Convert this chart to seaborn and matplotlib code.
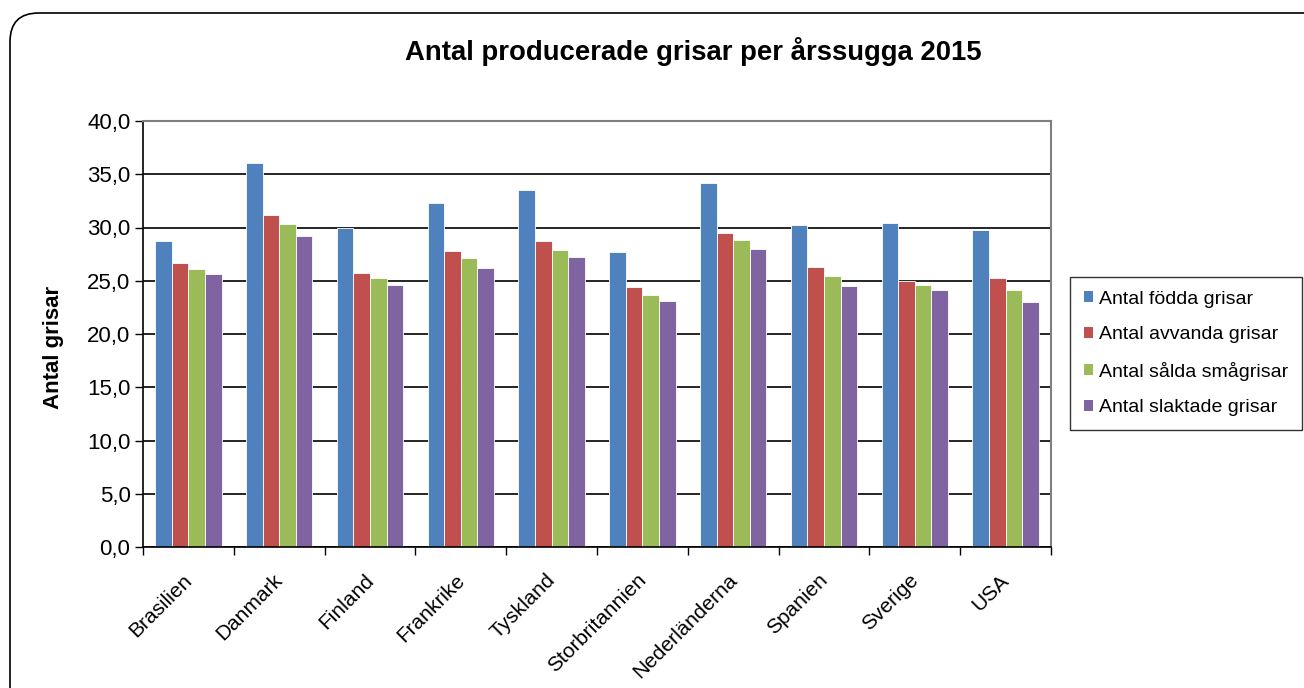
import pandas as pd
import matplotlib
matplotlib.use("Agg")
import matplotlib.pyplot as plt
import matplotlib.transforms as mtransforms
import seaborn as sns
from matplotlib.patches import FancyBboxPatch, Patch
from matplotlib.ticker import FuncFormatter, FixedLocator

# ── Data ──────────────────────────────────────────────────────────────────
countries = ["Brasilien", "Danmark", "Finland", "Frankrike", "Tyskland",
             "Storbritannien", "Nederländerna", "Spanien", "Sverige", "USA"]
series = ["Antal födda grisar", "Antal avvanda grisar",
          "Antal sålda smågrisar", "Antal slaktade grisar"]
fodda = [28.7, 36.1, 30.0, 32.3, 33.5, 27.7, 34.2, 30.2, 30.4, 29.8]
avvanda = [26.7, 31.2, 25.7, 27.8, 28.7, 24.4, 29.5, 26.3, 25.0, 25.3]
salda = [26.1, 30.3, 25.3, 27.1, 27.9, 23.7, 28.8, 25.4, 24.6, 24.1]
slaktade = [25.6, 29.2, 24.6, 26.2, 27.2, 23.1, 28.0, 24.5, 24.1, 23.0]
colors = ["#4F81BD", "#C0504D", "#9BBB59", "#8064A2"]

df = pd.DataFrame({"land": countries, series[0]: fodda, series[1]: avvanda,
                   series[2]: salda, series[3]: slaktade})
long = df.melt(id_vars="land", var_name="serie", value_name="antal")

sns.set_theme(style="white")
plt.rcParams["font.family"] = ["Liberation Sans", "DejaVu Sans"]
plt.rcParams["text.color"] = "black"
plt.rcParams["xtick.color"] = "black"
plt.rcParams["ytick.color"] = "black"
plt.rcParams["axes.labelcolor"] = "black"

fig = plt.figure(figsize=(13.04, 6.88), dpi=100)
ax = fig.add_axes([143 / 1304, 1 - 547 / 688, 908 / 1304, 426 / 688])

sns.barplot(data=long, x="land", y="antal", hue="serie", hue_order=series,
            palette=colors, width=0.73, saturation=1, ax=ax, legend=False,
            edgecolor="white", linewidth=0.6)

ax.set_ylim(0, 40)
ax.set_xlim(-0.5, len(countries) - 0.5)
ax.yaxis.set_major_locator(FixedLocator([i * 5 for i in range(9)]))
ax.yaxis.set_major_formatter(FuncFormatter(lambda v, p: f"{v:.1f}".replace(".", ",")))
ax.grid(axis="y", color="black", linewidth=1.2)
ax.set_axisbelow(True)

for side in ["top", "right"]:
    ax.spines[side].set_color("#808080")
    ax.spines[side].set_linewidth(1.5)
for side in ["left", "bottom"]:
    ax.spines[side].set_color("black")
    ax.spines[side].set_linewidth(1.2)

# category boundary ticks on x, outward ticks on y
ax.set_xticks(range(len(countries)))
ax.set_xticklabels(countries, rotation=45, ha="right", rotation_mode="anchor",
                   fontsize=15)
ax.tick_params(axis="x", which="major", length=0, pad=17)
shift = mtransforms.ScaledTranslation(-6 / 100, 0, fig.dpi_scale_trans)
for lbl in ax.get_xticklabels():
    lbl.set_transform(lbl.get_transform() + shift)
ax.set_xticks([i + 0.5 for i in range(-1, len(countries))], minor=True)
ax.tick_params(axis="x", which="minor", length=6, width=1, color="black",
               bottom=True, direction="out")
ax.tick_params(axis="y", length=6, width=1, color="black", left=True,
               direction="out", labelsize=16, pad=3)

ax.set_xlabel("")
ax.set_ylabel("")
fig.text(54 / 1304, 1 - 347 / 688, "Antal grisar", rotation=90,
         ha="center", va="center", fontsize=16, fontweight="bold")
fig.text(693 / 1304, 1 - 52 / 688, "Antal producerade grisar per årssugga 2015",
         ha="center", va="center", fontsize=19.8, fontweight="bold")

handles = [Patch(facecolor=c, edgecolor="none") for c in colors]
leg = fig.legend(handles, series, loc="upper left",
                 bbox_to_anchor=(1070 / 1304, 1 - 277 / 688),
                 frameon=True, fancybox=False, fontsize=14,
                 handlelength=0.5, handleheight=0.5, handletextpad=0.3,
                 labelspacing=0.95, borderpad=0.7, borderaxespad=0)
leg.get_frame().set_edgecolor("black")
leg.get_frame().set_linewidth(1.0)

# rounded outer border of the chart area
border = FancyBboxPatch((10 / 1304, -0.05), 1.2, 1 - 13 / 688 + 0.05,
                        boxstyle="round,pad=0,rounding_size=0.022",
                        transform=fig.transFigure, facecolor="none",
                        edgecolor="black", linewidth=1.2, clip_on=False,
                        mutation_aspect=1304 / 688)
fig.patches.append(border)

fig.savefig("out.png", dpi=100)
